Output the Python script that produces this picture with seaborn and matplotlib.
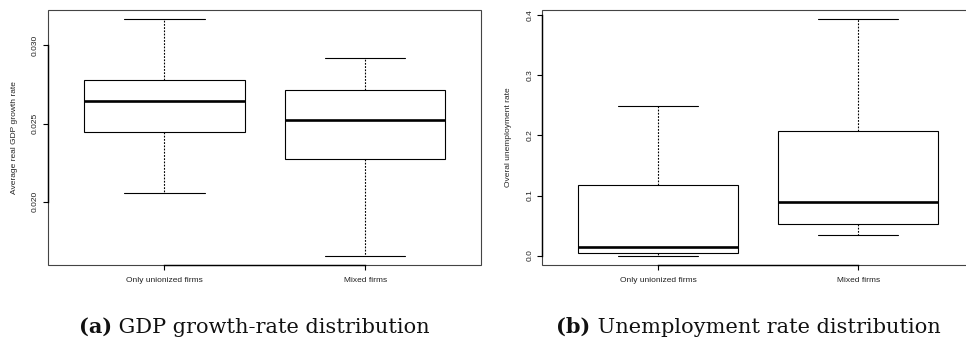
import numpy as np
import pandas as pd
import matplotlib
matplotlib.use("Agg")
import matplotlib.pyplot as plt
import seaborn as sns

# five-number summaries: min, Q1, median, Q3, max
groups = ["Only unionized firms", "Mixed firms"]
gdp_unionized = [0.02057, 0.02449, 0.02646, 0.02780, 0.03166]
gdp_mixed = [0.01656, 0.02275, 0.02521, 0.02712, 0.02922]
unemp_unionized = [0.0, 0.0045, 0.0150, 0.1171, 0.2486]
unemp_mixed = [0.0339, 0.0532, 0.0888, 0.2075, 0.3933]

gdp_ticks = [0.020, 0.025, 0.030]
unemp_ticks = [0.0, 0.1, 0.2, 0.3, 0.4]

sns.set_style("white")
plt.rcParams["font.family"] = ["Liberation Sans", "DejaVu Sans"]

fig = plt.figure(figsize=(9.66, 3.43), dpi=100)
W, H = 966, 343


def make_df(a, b):
    return pd.DataFrame({
        "group": [groups[0]] * len(a) + [groups[1]] * len(b),
        "value": a + b,
    })


def r_boxplot(ax, a, b, ticks, fmt, ylabel):
    df = make_df(a, b)
    sns.boxplot(data=df, x="group", y="value", ax=ax, order=groups,
                width=0.8, whis=(0, 100), color="white", linecolor="black",
                linewidth=0.8, saturation=1,
                medianprops=dict(linewidth=1.9, color="black"),
                whiskerprops=dict(linestyle=(0, (1.6, 1.3)), linewidth=0.8),
                capprops=dict(linewidth=0.8))
    lo = min(a + b)
    hi = max(a + b)
    pad = 0.04 * (hi - lo)
    ax.set_ylim(lo - pad, hi + pad)
    ax.set_xlim(-0.58, 1.58)
    ax.set_yticks(ticks)
    ax.set_yticklabels([fmt % t for t in ticks], rotation=90, va="center")
    ax.set_xlabel("")
    ax.set_ylabel(ylabel, fontsize=6, labelpad=10)
    ax.tick_params(axis="both", direction="out", length=3.6, width=0.8,
                   labelsize=6, color="black", labelcolor="#222222")
    ax.tick_params(axis="y", pad=3)
    ax.tick_params(axis="x", pad=5)
    ax.tick_params(left=True, bottom=True)
    # R style: gray frame plus dark axis segment between first/last tick
    ax.patch.set_edgecolor("#444444")
    ax.patch.set_linewidth(0.8)
    for s in ["top", "right"]:
        ax.spines[s].set_visible(False)
    ax.spines["left"].set_bounds(ticks[0], ticks[-1])
    ax.spines["bottom"].set_bounds(0, 1)
    for s in ["left", "bottom"]:
        ax.spines[s].set_color("black")
        ax.spines[s].set_linewidth(1.0)


ax1 = fig.add_axes([48 / W, 1 - 265 / H, 433.5 / W, 255 / H])
r_boxplot(ax1, gdp_unionized, gdp_mixed, gdp_ticks, "%.3f",
          "Average real GDP growth rate")

ax2 = fig.add_axes([542.3 / W, 1 - 265 / H, 432 / W, 255 / H])
r_boxplot(ax2, unemp_unionized, unemp_mixed, unemp_ticks, "%.1f",
          "Overal unemployment rate")

# captions below each panel: bold tag + regular text, centred as a unit
captions = [("(a)", " GDP growth-rate distribution", 254.5),
            ("(b)", " Unemployment rate distribution", 748.5)]
serif = ["DejaVu Serif"]
fig.canvas.draw()
renderer = fig.canvas.get_renderer()
for tag, rest, cx in captions:
    t1 = fig.text(0, 1 - 333 / H, tag, fontsize=15, fontweight="bold",
                  family=serif, va="baseline", ha="left", color="#111111")
    t2 = fig.text(0, 1 - 333 / H, rest, fontsize=15, family=serif,
                  va="baseline", ha="left", color="#111111")
    w1 = t1.get_window_extent(renderer).width
    w2 = t2.get_window_extent(renderer).width
    x0 = cx - (w1 + w2) / 2
    t1.set_x(x0 / W)
    t2.set_x((x0 + w1) / W)

fig.savefig("out.png", dpi=100)
